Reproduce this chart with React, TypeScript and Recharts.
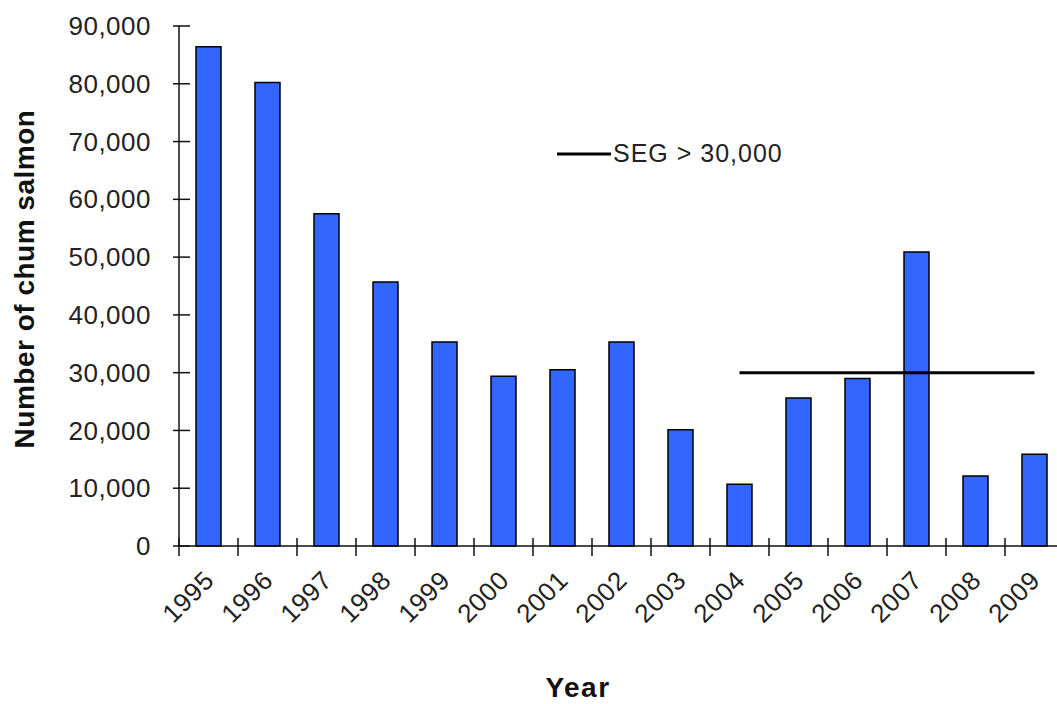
import { ComposedChart, Bar, Line, XAxis, YAxis, Legend } from 'recharts';

const years = ['1995', '1996', '1997', '1998', '1999', '2000', '2001', '2002', '2003', '2004', '2005', '2006', '2007', '2008', '2009'];
const escapement = [86400, 80200, 57500, 45700, 35300, 29400, 30500, 35300, 20100, 10700, 25600, 29000, 50900, 12100, 15900];
const segGoal = [null, null, null, null, null, null, null, null, null, 30000, 30000, 30000, 30000, 30000, 30000];
const yTicks = [0, 10000, 20000, 30000, 40000, 50000, 60000, 70000, 80000, 90000];

const data = years.map((year, i) => ({ year, count: escapement[i], seg: segGoal[i] }));

const CHART_W = 1064;
const CHART_H = 704;
const Y_AXIS_W = 179;
const X_AXIS_H = 158;
const MARGIN = { top: 26, right: 0, bottom: 0, left: 0 };
const band = (CHART_W - Y_AXIS_W - MARGIN.left - MARGIN.right) / years.length;

const font = '"Liberation Sans", Arial, sans-serif';

function YTick(props: any) {
    const { x, y, payload } = props;
    return (
        <g>
            <line x1={x - 6} x2={x + 11} y1={y} y2={y} stroke="#111" strokeWidth={1.5} />
            <text
                x={x - 28}
                y={y}
                dy="0.35em"
                textAnchor="end"
                fontSize={26}
                letterSpacing={0.5}
                fill="#222"
                fontFamily={font}
            >
                {Number(payload.value).toLocaleString('en-US')}
            </text>
        </g>
    );
}

function XTick(props: any) {
    const { x, y, payload } = props;
    const tx = x - band / 2;
    const lx = x + 7;
    const ly = y + 36;
    return (
        <g>
            <line x1={tx} x2={tx} y1={y - 8} y2={y + 10} stroke="#111" strokeWidth={1.5} />
            <text
                x={lx}
                y={ly}
                textAnchor="end"
                fontSize={26}
                letterSpacing={0.5}
                fill="#222"
                fontFamily={font}
                transform={`rotate(-45, ${lx}, ${ly})`}
            >
                {payload.value}
            </text>
        </g>
    );
}

function SegLegend() {
    return (
        <div style={{ display: 'flex', alignItems: 'center', fontFamily: font }}>
            <svg width={54} height={6}>
                <line x1={0} x2={54} y1={3} y2={3} stroke="#000" strokeWidth={3} />
            </svg>
            <span style={{ fontSize: 25, letterSpacing: 1, color: '#222', marginLeft: 2 }}>SEG &gt; 30,000</span>
        </div>
    );
}

export default function App() {
    return (
        <div
            style={{
                position: 'absolute',
                left: 0,
                top: 0,
                width: 1057,
                height: 704,
                overflow: 'hidden',
                background: '#fff',
            }}
        >
            <ComposedChart width={CHART_W} height={CHART_H} data={data} margin={MARGIN}>
                <XAxis
                    dataKey="year"
                    height={X_AXIS_H}
                    tickSize={0}
                    tickMargin={0}
                    tickLine={false}
                    interval={0}
                    axisLine={{ stroke: '#111', strokeWidth: 1.5 }}
                    tick={<XTick />}
                    label={{
                        content: (p: any) => {
                            const vb = p.viewBox;
                            return (
                                <text
                                    x={vb.x + 399}
                                    y={vb.y + 151}
                                    textAnchor="middle"
                                    fontSize={28}
                                    fontWeight="bold"
                                    letterSpacing={1.5}
                                    fill="#111"
                                    fontFamily={font}
                                >
                                    Year
                                </text>
                            );
                        },
                    }}
                />
                <YAxis
                    width={Y_AXIS_W}
                    domain={[0, 90000]}
                    ticks={yTicks}
                    interval={0}
                    tickSize={0}
                    tickMargin={0}
                    tickLine={false}
                    axisLine={{ stroke: '#111', strokeWidth: 1.5 }}
                    tick={<YTick />}
                    label={{
                        content: (p: any) => {
                            const vb = p.viewBox;
                            const lx = vb.x + 34;
                            const ly = vb.y + vb.height / 2 - 7;
                            return (
                                <text
                                    x={lx}
                                    y={ly}
                                    textAnchor="middle"
                                    fontSize={28}
                                    fontWeight="bold"
                                    letterSpacing={0.5}
                                    fill="#111"
                                    fontFamily={font}
                                    transform={`rotate(-90, ${lx}, ${ly})`}
                                >
                                    Number of chum salmon
                                </text>
                            );
                        },
                    }}
                />
                <Legend
                    layout="horizontal"
                    verticalAlign="middle"
                    align="center"
                    content={<SegLegend />}
                    wrapperStyle={{ left: 557, top: 139, width: 'auto' }}
                />
                <Bar
                    dataKey="count"
                    name="Chum salmon"
                    fill="#3366ff"
                    stroke="#000"
                    strokeWidth={1.5}
                    barSize={25}
                    isAnimationActive={false}
                />
                <Line
                    dataKey="seg"
                    name="SEG > 30,000"
                    type="linear"
                    stroke="#000"
                    strokeWidth={3}
                    dot={false}
                    activeDot={false}
                    isAnimationActive={false}
                />
            </ComposedChart>
        </div>
    );
}
